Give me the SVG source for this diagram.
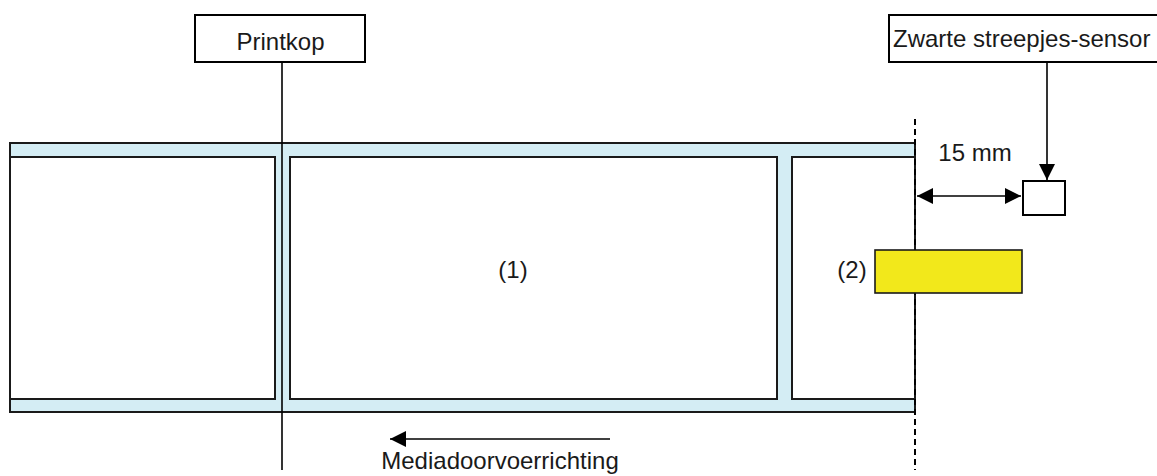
<svg xmlns="http://www.w3.org/2000/svg" width="1157" height="476" viewBox="0 0 1157 476">
<style>
  text { font-family: "Liberation Sans", Arial, sans-serif; font-size: 24px; fill: #1a1a1a; }
  .box { fill: #ffffff; stroke: #000000; stroke-width: 2; }
  .label { fill: #ffffff; stroke: #1a1a1a; stroke-width: 2; }
  .line { stroke: #000000; stroke-width: 1.6; fill: none; }
</style>
<defs>
  <marker id="ah" viewBox="0 0 16 16" refX="16" refY="8" markerWidth="16" markerHeight="16" markerUnits="userSpaceOnUse" orient="auto-start-reverse">
    <path d="M0,0 L16,8 L0,16 Z" fill="#000"/>
  </marker>
</defs>
<rect width="1157" height="476" fill="#ffffff"/>
<g id="liner">
  <rect x="10" y="143" width="905" height="269" fill="#d4edf4" stroke="#1a1a1a" stroke-width="2"/>
</g>
<g id="label-left">
  <rect class="label" x="10" y="157" width="265" height="242"/>
</g>
<g id="label-1">
  <rect class="label" x="290" y="157" width="487" height="242"/>
  <text x="513" y="278" text-anchor="middle">(1)</text>
</g>
<g id="label-right">
  <rect class="label" x="792" y="157" width="123" height="242"/>
</g>
<g id="printkop">
  <rect class="box" x="195" y="15" width="170" height="47"/>
  <text x="280.5" y="50" text-anchor="middle">Printkop</text>
</g>
<g id="sensor-label">
  <rect class="box" x="889" y="15" width="290" height="47"/>
  <text x="893" y="47">Zwarte streepjes-sensor</text>
</g>
<g id="sensor">
  <rect class="box" x="1023" y="181" width="42" height="34"/>
</g>
<g id="connectors">
  <line class="line" x1="282" y1="62" x2="282" y2="470"/>
  <line x1="915" y1="119" x2="915" y2="470" stroke="#000" stroke-width="2" stroke-dasharray="6,4"/>
  <line class="line" x1="1047" y1="62" x2="1047" y2="180" stroke-width="2" marker-end="url(#ah)"/>
  <line class="line" x1="917" y1="196" x2="1021" y2="196" stroke-width="2" marker-start="url(#ah)" marker-end="url(#ah)"/>
  <line class="line" x1="610" y1="439" x2="390" y2="439" stroke-width="2" marker-end="url(#ah)"/>
</g>
<g id="mark-2">
  <rect x="875" y="250" width="147" height="43" fill="#f2e81b" stroke="#1a1a1a" stroke-width="1.6"/>
  <text x="852" y="278" text-anchor="middle">(2)</text>
</g>
<g id="texts">
  <text x="975" y="161" text-anchor="middle">15 mm</text>
  <text x="500" y="469" text-anchor="middle">Mediadoorvoerrichting</text>
</g>
</svg>
